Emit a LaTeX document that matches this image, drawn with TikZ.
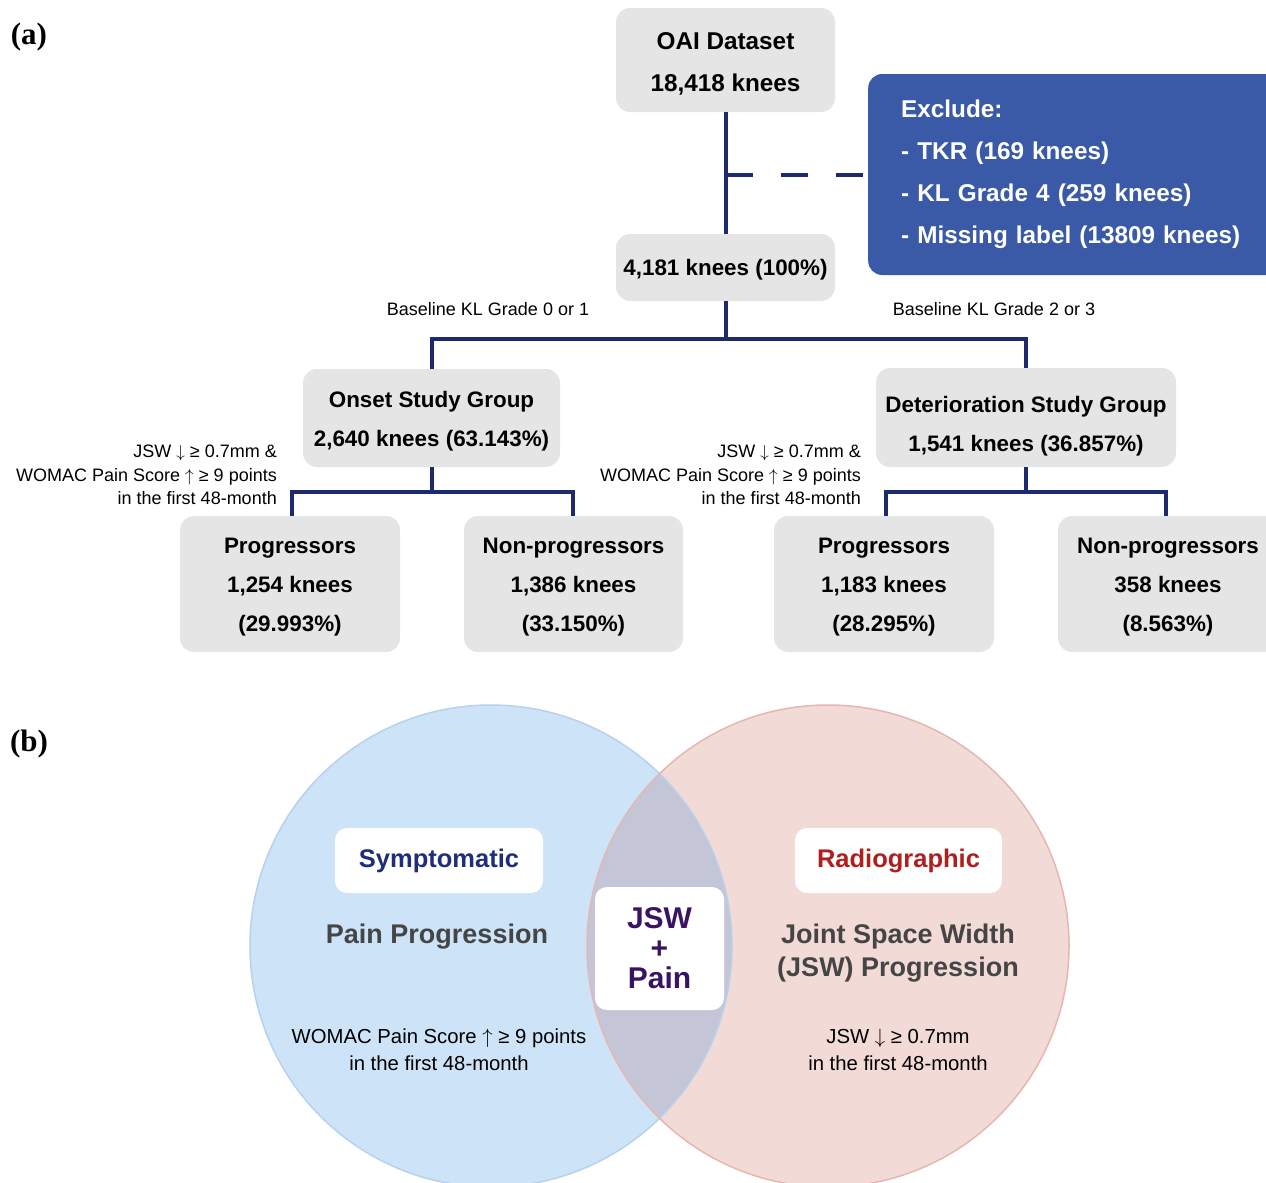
\documentclass[tikz,border=0pt]{standalone}
\usepackage{fontspec}
\setmainfont{Liberation Sans}
\newfontfamily\labfont{Liberation Serif}
\definecolor{boxgrey}{HTML}{E5E5E5}
\definecolor{navy}{HTML}{1E2A6E}
\definecolor{exblue}{HTML}{3A5AA8}
\definecolor{vblue}{HTML}{CDE3F7}
\definecolor{vbluel}{HTML}{B8D1EC}
\definecolor{vpink}{HTML}{F2DAD6}
\definecolor{vpinkl}{HTML}{E6B6B1}
\definecolor{vlens}{HTML}{C4C6D8}
\definecolor{symcol}{HTML}{1F2D7A}
\definecolor{radcol}{HTML}{B01E1E}
\definecolor{mixcol}{HTML}{3A1463}
\definecolor{greytext}{HTML}{454545}
\newcommand{\dnar}{$\downarrow$}
\newcommand{\upar}{$\uparrow$}
\tikzset{
  x=1pt, y=-1pt,
  fbox/.style={fill=boxgrey, rounded corners=14pt, inner sep=0pt},
  btxt/.style={inner sep=0pt, align=center, font=\bfseries\fontsize{22.4}{39}\selectfont},
  bigtxt/.style={btxt, font=\bfseries\fontsize{24.3}{42}\selectfont},
  conn/.style={draw=navy, line width=4pt},
  note/.style={inner sep=0pt, font=\fontsize{18}{23.5}\selectfont},
  wbox/.style={fill=white, rounded corners=12pt, inner sep=0pt, align=center},
  panel/.style={inner sep=0pt, font=\labfont\bfseries\fontsize{31}{31}\selectfont},
}
\begin{document}
\begin{tikzpicture}
\useasboundingbox (0,0) rectangle (1266,1183);
\clip (0,0) rectangle (1266,1183);

% panel labels
\node[panel] (la) at (29,37) {(a)};
\node[panel] (lb) at (29,744) {(b)};

% flowchart boxes
\node[fbox, minimum width=219pt, minimum height=104pt] (oai) at (725.5,60) {};
\node[bigtxt] (oait) at ([yshift=-4pt]oai.center) {OAI Dataset\\18,418 knees};
\node[fill=exblue, rounded corners=14pt, text=white, align=left, inner xsep=33pt, inner ysep=0pt,
      text width=360pt, minimum height=201pt, anchor=west,
      font=\bfseries\fontsize{24.3}{42}\selectfont] (excl) at (868,174.5)
  {Exclude:\\- TKR (169 knees)\\- KL Grade 4 (259 knees)\\- Missing label (13809 knees)};
\node[fbox, minimum width=219pt, minimum height=67pt] (total) at (725.5,267.5) {};
\node[btxt] (totalt) at ([yshift=-2pt]total.center) {4,181 knees (100\%)};
\node[fbox, minimum width=257pt, minimum height=98pt] (onset) at (431.5,418) {};
\node[btxt] (onsett) at ([yshift=-3pt]onset.center) {Onset Study Group\\2,640 knees (63.143\%)};
\node[fbox, minimum width=300pt, minimum height=99pt] (det) at (1026,417.5) {};
\node[btxt] (dett) at ([yshift=-8.5pt]det.center) {Deterioration Study Group\\1,541 knees (36.857\%)};
\node[fbox, minimum width=220pt, minimum height=136pt] (p1) at (290,584) {};
\node[btxt] (p1t) at ([yshift=-3pt]p1.center) {Progressors\\1,254 knees\\(29.993\%)};
\node[fbox, minimum width=219pt, minimum height=136pt] (n1) at (573.5,584) {};
\node[btxt] (n1t) at ([yshift=-3pt]n1.center) {Non-progressors\\1,386 knees\\(33.150\%)};
\node[fbox, minimum width=220pt, minimum height=136pt] (p2) at (884,584) {};
\node[btxt] (p2t) at ([yshift=-3pt]p2.center) {Progressors\\1,183 knees\\(28.295\%)};
\node[fbox, minimum width=220pt, minimum height=136pt] (n2) at (1168,584) {};
\node[btxt] (n2t) at ([yshift=-3pt]n2.center) {Non-progressors\\358 knees\\(8.563\%)};

% connectors
\draw[conn] (oai.south) -- (total.north);
\coordinate (jn) at (oai.south |- excl.west);
\draw[conn, dash pattern=on 27pt off 28pt] (jn) -- (excl.west);
\draw[conn] (total.south) -- ++(0,38) coordinate (tj) -| (onset.north);
\draw[conn] (tj) -| (det.north);
\draw[conn] (onset.south) -- ++(0,25) coordinate (oj) -| ([xshift=2pt]p1.north);
\draw[conn] (oj) -| ([xshift=-1pt]n1.north);
\draw[conn] (det.south) -- ++(0,25) coordinate (dj) -| ([xshift=2pt]p2.north);
\draw[conn] (dj) -| ([xshift=-2pt]n2.north);

% notes
\node[note] (b01) at (488,309) {Baseline KL Grade 0 or 1};
\node[note] (b23) at (994,309) {Baseline KL Grade 2 or 3};
\node[note, align=right, anchor=east] (c1) at (277,475) {JSW \dnar{} ≥ 0.7mm \&\\WOMAC Pain Score \upar{} ≥ 9 points\\in the first 48-month};
\node[note, align=right, anchor=east] (c2) at (861,475) {JSW \dnar{} ≥ 0.7mm \&\\WOMAC Pain Score \upar{} ≥ 9 points\\in the first 48-month};

% Venn diagram
\fill[vblue] (491,946) circle[radius=241pt];
\fill[vpink] (828,946) circle[radius=241pt];
\begin{scope}
  \clip (491,946) circle[radius=241pt];
  \fill[vlens] (828,946) circle[radius=241pt];
\end{scope}
\draw[vbluel, line width=1.5pt] (491,946) circle[radius=241pt];
\draw[vpinkl, line width=1.5pt] (828,946) circle[radius=241pt];

\node[wbox, minimum width=208pt, minimum height=65pt, text=symcol, font=\bfseries\fontsize{25.5}{30}\selectfont] (sym) at (439,860.5) {Symptomatic};
\node[wbox, minimum width=207pt, minimum height=65pt, text=radcol, font=\bfseries\fontsize{25.5}{30}\selectfont] (rad) at (898.5,860.5) {Radiographic};
\node[wbox, minimum width=129pt, minimum height=123pt, text=mixcol, font=\bfseries\fontsize{30}{30}\selectfont] (mix) at (659.5,948.5) {JSW\\+\\Pain};

\node[inner sep=0pt, text=greytext, font=\bfseries\fontsize{27}{33}\selectfont] (pp) at (437,937) {Pain Progression};
\node[inner sep=0pt, align=center, text=greytext, font=\bfseries\fontsize{27}{33}\selectfont] (jp) at (898,953) {Joint Space Width\\(JSW) Progression};
\node[inner sep=0pt, align=center, font=\fontsize{20.3}{27}\selectfont] (pc) at (439,1049.5) {WOMAC Pain Score \upar{} ≥ 9 points\\in the first 48-month};
\node[inner sep=0pt, align=center, font=\fontsize{20.3}{27}\selectfont] (jc) at (898,1049.5) {JSW \dnar{} ≥ 0.7mm\\in the first 48-month};
\end{tikzpicture}
\end{document}
